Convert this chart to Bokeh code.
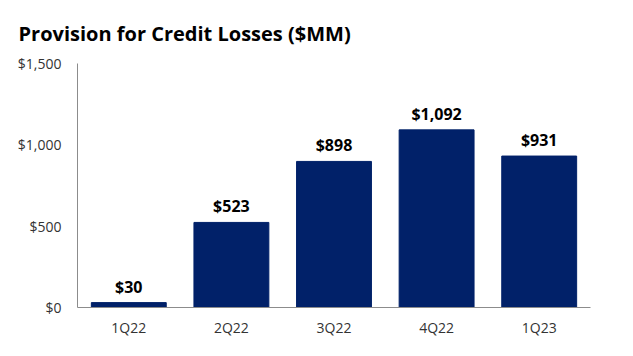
from bokeh.plotting import figure
from bokeh.models import ColumnDataSource, FactorRange, Range1d, FixedTicker, NumeralTickFormatter, LabelSet
from bokeh.core.properties import value
from bokeh.embed import file_html
from bokeh.resources import INLINE

categories = ["1Q22", "2Q22", "3Q22", "4Q22", "1Q23"]
values = [30, 523, 898, 1092, 931]
y_ticks = [0, 500, 1000, 1500]
title_text = "Provision for Credit Losses ($MM)"

labels = ["${:,}".format(v) for v in values]
src = ColumnDataSource(dict(cat=categories, val=values, lab=labels))

FONT = "Open Sans"
BAR = "#012169"

p = figure(width=610, height=347, x_range=FactorRange(*categories, range_padding=0),
           y_range=Range1d(0, 1500), output_backend="svg", toolbar_location=None,
           min_border_left=77, min_border_right=20, min_border_top=0, min_border_bottom=40)

p.title.text = title_text
p.title.text_font = FONT
p.title.text_font_size = "20px"
p.title.text_font_style = "bold"
p.title.text_color = "#000000"
p.title.align = "left"
p.title.offset = -59
p.title.standoff = 34

p.vbar(x="cat", top="val", width=0.73, source=src, color=BAR)

p.add_layout(LabelSet(x="cat", y="val", text="lab", source=src, y_offset=5,
                      text_align="center", text_baseline="bottom",
                      text_font=value(FONT), text_font_size=value("16px"),
                      text_font_style="bold", text_color="#000000"))

p.xgrid.visible = False
p.ygrid.visible = False
p.outline_line_color = None

for ax in (p.xaxis, p.yaxis):
    ax.axis_line_color = "#8c8c8c"
    ax.axis_line_width = 1
    ax.major_tick_line_color = None
    ax.minor_tick_line_color = None
    ax.major_tick_out = 0
    ax.major_tick_in = 0
    ax.major_label_text_font = FONT
    ax.major_label_text_font_size = "14px"
    ax.major_label_text_color = "#333333"

p.yaxis.ticker = FixedTicker(ticks=y_ticks)
p.yaxis.formatter = NumeralTickFormatter(format="$0,0")
p.yaxis.major_label_standoff = 16
p.xaxis.major_label_standoff = 10

open("out.html", "w").write(file_html(p, INLINE))
